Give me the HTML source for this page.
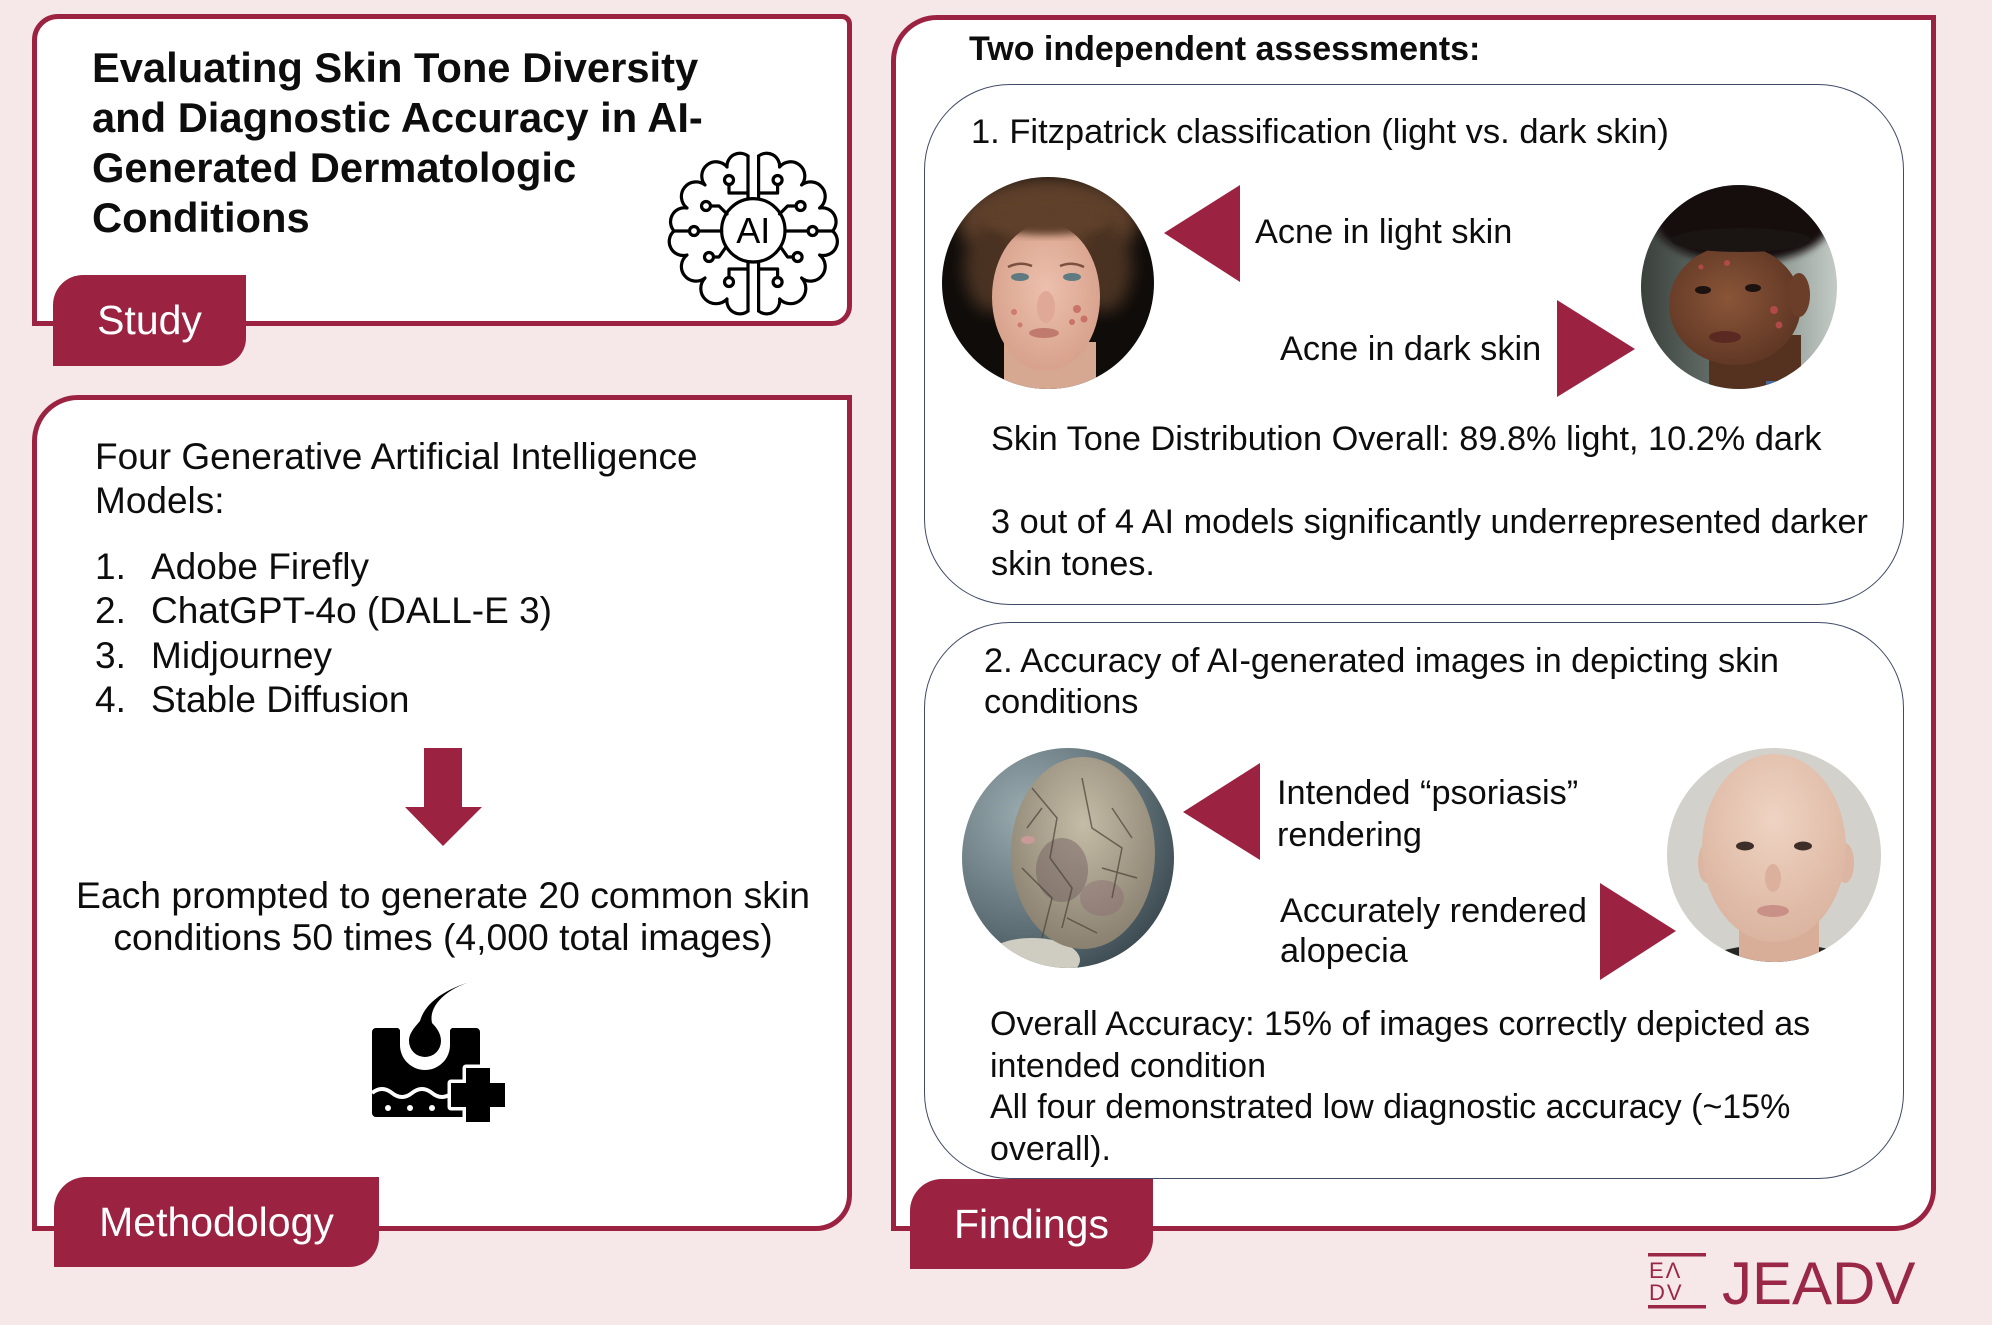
<!DOCTYPE html>
<html><head><meta charset="utf-8">
<style>
html,body{margin:0;padding:0;}
body{width:1992px;height:1325px;position:relative;overflow:hidden;background:#f6e7e9;font-family:"Liberation Sans",Arial,sans-serif;color:#0d0d0d;}
.panel{position:absolute;box-sizing:border-box;border:5px solid #9b2341;background:#fff;}
.tab{position:absolute;background:#9b2341;color:#fff;font-size:41px;display:flex;align-items:center;justify-content:center;}
.t{position:absolute;white-space:nowrap;}
.inner{position:absolute;box-sizing:border-box;border:1.4px solid #3f4a66;border-radius:86px;background:#fff;}
svg{position:absolute;left:0;top:0;}
</style></head><body>

<div class="panel" style="left:32px;top:14px;width:820px;height:312px;border-radius:26px 10px 20px 0;"></div>
<div class="panel" style="left:32px;top:395px;width:820px;height:836px;border-radius:46px 0 36px 0;"></div>
<div class="panel" style="left:891px;top:15px;width:1045px;height:1216px;border-radius:46px 0 42px 0;"></div>

<div class="inner" style="left:924px;top:84px;width:980px;height:521px;"></div>
<div class="inner" style="left:924px;top:622px;width:980px;height:557px;"></div>

<svg width="1992" height="1325" viewBox="0 0 1992 1325">
<defs>
<clipPath id="c1"><circle cx="1048" cy="283" r="106"/></clipPath>
<clipPath id="c2"><ellipse cx="1739" cy="287" rx="98" ry="102"/></clipPath>
<clipPath id="c3"><ellipse cx="1068" cy="858" rx="106" ry="110"/></clipPath>
<clipPath id="c4"><circle cx="1774" cy="855" r="107"/></clipPath>
<filter id="b4" x="-20%" y="-20%" width="140%" height="140%"><feGaussianBlur stdDeviation="4"/></filter>
<filter id="b8" x="-30%" y="-30%" width="160%" height="160%"><feGaussianBlur stdDeviation="8"/></filter>
<linearGradient id="g2bg" x1="0" y1="0" x2="1" y2="0"><stop offset="0" stop-color="#3a403c"/><stop offset="0.6" stop-color="#7d8a84"/><stop offset="1" stop-color="#c4cbc6"/></linearGradient>
<radialGradient id="g3bg" cx="0.3" cy="0.3" r="0.9"><stop offset="0" stop-color="#9aabb0"/><stop offset="0.6" stop-color="#5c6e74"/><stop offset="1" stop-color="#2f3c42"/></radialGradient>
<radialGradient id="g3f" cx="0.5" cy="0.35" r="0.7"><stop offset="0" stop-color="#c4bca6"/><stop offset="1" stop-color="#857c6c"/></radialGradient>
<radialGradient id="g4f" cx="0.5" cy="0.35" r="0.7"><stop offset="0" stop-color="#efd3c2"/><stop offset="1" stop-color="#d9b29d"/></radialGradient>
<radialGradient id="g1f" cx="0.5" cy="0.45" r="0.65"><stop offset="0" stop-color="#ecc0ad"/><stop offset="1" stop-color="#d49c86"/></radialGradient>
<radialGradient id="g2f" cx="0.45" cy="0.45" r="0.65"><stop offset="0" stop-color="#8a5538"/><stop offset="1" stop-color="#5a3322"/></radialGradient>
</defs>

<!-- Photo 1: light skin acne -->
<g clip-path="url(#c1)"><g transform="translate(942,177)">
<rect x="0" y="0" width="212" height="212" fill="#0f0c0a"/>
<g filter="url(#b8)">
<ellipse cx="106" cy="45" rx="90" ry="45" fill="#5e412b"/>
<ellipse cx="50" cy="90" rx="28" ry="45" fill="#4a3221"/>
<ellipse cx="162" cy="90" rx="28" ry="45" fill="#4a3221"/>
</g>
<rect x="62" y="165" width="92" height="60" fill="#d6a891"/>
<ellipse cx="104" cy="120" rx="54" ry="74" fill="url(#g1f)"/>
<ellipse cx="104" cy="44" rx="62" ry="14" fill="#5e412b" filter="url(#b4)"/>
<ellipse cx="78" cy="100" rx="9" ry="4" fill="#5f7a80"/>
<ellipse cx="130" cy="100" rx="9" ry="4" fill="#5f7a80"/>
<path d="M66 90 Q78 84 90 89 M118 89 Q130 84 142 90" stroke="#7a5040" stroke-width="2.5" fill="none"/>
<ellipse cx="104" cy="130" rx="9" ry="16" fill="#e0a896"/>
<ellipse cx="102" cy="156" rx="15" ry="5" fill="#c07a6e"/>
<circle cx="135" cy="132" r="4" fill="#c05a52" opacity="0.7"/>
<circle cx="142" cy="142" r="3.5" fill="#c05a52" opacity="0.7"/>
<circle cx="130" cy="145" r="3" fill="#c05a52" opacity="0.7"/>
<circle cx="72" cy="135" r="3" fill="#c05a52" opacity="0.6"/>
<circle cx="78" cy="148" r="2.5" fill="#c05a52" opacity="0.6"/>
</g></g>

<!-- Photo 2: dark skin acne -->
<g clip-path="url(#c2)"><g transform="translate(1641,185)">
<rect x="0" y="0" width="196" height="204" fill="url(#g2bg)"/>
<ellipse cx="102" cy="36" rx="88" ry="42" fill="#16110f" filter="url(#b4)"/>
<rect x="68" y="150" width="92" height="60" fill="#55311f"/>
<ellipse cx="94" cy="120" rx="66" ry="60" fill="url(#g2f)"/>
<ellipse cx="158" cy="110" rx="11" ry="22" fill="#6a3e28"/>
<ellipse cx="100" cy="55" rx="70" ry="12" fill="#1a1412"/>
<ellipse cx="62" cy="105" rx="8" ry="4" fill="#1c1210"/>
<ellipse cx="112" cy="103" rx="8" ry="4" fill="#1c1210"/>
<ellipse cx="84" cy="152" rx="16" ry="6" fill="#5a2a22"/>
<circle cx="133" cy="125" r="4" fill="#b04a48"/>
<circle cx="138" cy="140" r="3.5" fill="#b04a48"/>
<circle cx="86" cy="78" r="3" fill="#b04a48"/>
<circle cx="60" cy="82" r="2.5" fill="#b04a48"/>
<rect x="125" y="196" width="60" height="12" fill="#4a6a9a"/>
</g></g>

<!-- Photo 3: psoriasis -->
<g clip-path="url(#c3)"><g transform="translate(962,748)">
<rect x="0" y="0" width="212" height="220" fill="url(#g3bg)"/>
<ellipse cx="70" cy="212" rx="48" ry="22" fill="#cfcdc2"/>
<ellipse cx="121" cy="105" rx="72" ry="96" fill="url(#g3f)"/>
<ellipse cx="100" cy="122" rx="26" ry="32" fill="#6e5c5e" opacity="0.45"/>
<ellipse cx="140" cy="150" rx="22" ry="18" fill="#8a6a70" opacity="0.4"/>
<ellipse cx="66" cy="92" rx="7" ry="4" fill="#c99a98"/>
<path d="M70 40 L95 70 L88 110 L110 140 L100 180 M120 30 L130 80 L160 100 L150 150 M60 120 L90 150 L80 190 M150 60 L170 90 M80 60 L65 80 M140 120 L175 130 M105 170 L135 185" stroke="#4a4036" stroke-width="1.5" fill="none" opacity="0.7"/>
</g></g>

<!-- Photo 4: alopecia -->
<g clip-path="url(#c4)"><g transform="translate(1667,748)">
<rect x="0" y="0" width="214" height="216" fill="#d2d1cb"/>
<ellipse cx="112" cy="226" rx="90" ry="30" fill="#262626"/>
<rect x="72" y="160" width="80" height="60" fill="#d8ae99"/>
<ellipse cx="40" cy="115" rx="9" ry="20" fill="#dcb6a2"/>
<ellipse cx="178" cy="115" rx="9" ry="20" fill="#dcb6a2"/>
<ellipse cx="107" cy="100" rx="72" ry="94" fill="url(#g4f)"/>
<ellipse cx="78" cy="98" rx="9" ry="4.5" fill="#3e2e2a"/>
<ellipse cx="136" cy="98" rx="9" ry="4.5" fill="#3e2e2a"/>
<ellipse cx="106" cy="130" rx="8" ry="14" fill="#dbb19d"/>
<ellipse cx="106" cy="163" rx="16" ry="6" fill="#c99088"/>
</g></g>

<!-- triangles -->
<g fill="#9b2341">
<polygon points="1164,233 1240,185 1240,282"/>
<polygon points="1557,300 1557,397 1635,349"/>
<polygon points="1183,812 1260,763 1260,860"/>
<polygon points="1600,883 1600,980 1676,931"/>
<!-- down arrow -->
<polygon points="424,748 462,748 462,807 482,807 443,846 405,807 424,807"/>
</g>

<!-- brain AI icon -->
<g transform="translate(669,151)" fill="none" stroke="#000" stroke-width="3.2" stroke-linecap="round" stroke-linejoin="round">
<path d="M79,5 A13,13 0 0 0 58,16 A14,14 0 0 0 36,34 A14,14 0 0 0 18,57 A14,14 0 0 0 5,80 A14,14 0 0 0 18,104 A14,14 0 0 0 36,127 A14,14 0 0 0 58,148 A13,13 0 0 0 79,160"/>
<path d="M79,5 L79,48 M79,111 L79,160"/>
<circle cx="60" cy="29" r="4.5"/>
<path d="M60,33.5 L60,42 L79,42"/>
<circle cx="37" cy="55" r="4.5"/>
<path d="M41.5,55 L50,55 L58,63"/>
<circle cx="25" cy="80" r="4.5"/>
<path d="M5,80 L20.5,80 M29.5,80 L52.6,80"/>
<circle cx="40" cy="106" r="4.5"/>
<path d="M44.5,106 L50,106 L57,96"/>
<circle cx="60" cy="131" r="4.5"/>
<path d="M60,126.5 L60,118 L79,118"/>
<g transform="translate(168.6,0) scale(-1,1)">
<path d="M79,5 A13,13 0 0 0 58,16 A14,14 0 0 0 36,34 A14,14 0 0 0 18,57 A14,14 0 0 0 5,80 A14,14 0 0 0 18,104 A14,14 0 0 0 36,127 A14,14 0 0 0 58,148 A13,13 0 0 0 79,160"/>
<path d="M79,5 L79,48 M79,111 L79,160"/>
<circle cx="60" cy="29" r="4.5"/>
<path d="M60,33.5 L60,42 L79,42"/>
<circle cx="37" cy="55" r="4.5"/>
<path d="M41.5,55 L50,55 L58,63"/>
<circle cx="25" cy="80" r="4.5"/>
<path d="M5,80 L20.5,80 M29.5,80 L52.6,80"/>
<circle cx="40" cy="106" r="4.5"/>
<path d="M44.5,106 L50,106 L57,96"/>
<circle cx="60" cy="131" r="4.5"/>
<path d="M60,126.5 L60,118 L79,118"/>
</g>
<circle cx="84.3" cy="79.3" r="31.7"/>
<text x="84.3" y="92" text-anchor="middle" font-family="Liberation Sans, Arial, sans-serif" font-size="36" fill="#000" stroke="none">AI</text>
</g>

<!-- skin icon -->
<g transform="translate(360,975)">
<path d="M16,53 L38,53 L40,55 L40,70 A25,25 0 0 0 90,70 L90,55 L92,53 L116,53 A4,4 0 0 1 120,57 L120,138 A4,4 0 0 1 116,142 L16,142 A4,4 0 0 1 12,138 L12,57 A4,4 0 0 1 16,53 Z" fill="#000"/>
<path d="M49,66 A16,16 0 0 0 81,66 C81,58 76,52 72,48 C68,30 88,12 117,5 C90,12 66,25 60,46 C55,52 49,58 49,66 Z" fill="#000"/>
<path d="M12,118 Q22,110 32,118 T52,118 T72,118 T92,118" stroke="#fff" stroke-width="4" fill="none"/>
<circle cx="28" cy="133" r="3" fill="#fff"/>
<circle cx="50" cy="133" r="3" fill="#fff"/>
<circle cx="72" cy="133" r="3" fill="#fff"/>
<path d="M106,93 L130,93 L130,108 L145,108 L145,132 L130,132 L130,147 L106,147 L106,132 L91,132 L91,108 L106,108 Z" fill="#000" stroke="#fff" stroke-width="7" stroke-linejoin="round" paint-order="stroke"/>
<path d="M106,93 L130,93 L130,108 L145,108 L145,132 L130,132 L130,147 L106,147 L106,132 L91,132 L91,108 L106,108 Z" fill="#000"/>
</g>

<!-- logo mark -->
<g fill="#9b2747">
<rect x="1648" y="1253" width="58" height="3.5"/>
<rect x="1648" y="1305" width="58" height="3.5"/>
<text x="1649" y="1278" font-family="Liberation Sans, Arial, sans-serif" font-size="22" letter-spacing="2">EΛ</text>
<text x="1649" y="1300" font-family="Liberation Sans, Arial, sans-serif" font-size="22" letter-spacing="2">DV</text>
</g>
</svg>

<div class="tab" style="left:53px;top:275px;width:193px;height:91px;border-radius:30px 0 28px 0;">Study</div>
<div class="tab" style="left:54px;top:1177px;width:325px;height:90px;border-radius:32px 0 30px 0;">Methodology</div>
<div class="tab" style="left:910px;top:1179px;width:243px;height:90px;border-radius:32px 0 30px 0;">Findings</div>

<div class="t" style="left:92px;top:43px;font-size:41.7px;line-height:50px;font-weight:bold;">Evaluating Skin Tone Diversity<br>and Diagnostic Accuracy in AI-<br>Generated Dermatologic<br>Conditions</div>

<div class="t" style="left:95px;top:435px;font-size:37px;line-height:44px;">Four Generative Artificial Intelligence<br>Models:</div>
<div class="t" style="left:95px;top:545px;font-size:37px;line-height:44.3px;">1.<br>2.<br>3.<br>4.</div>
<div class="t" style="left:151px;top:545px;font-size:37px;line-height:44.3px;">Adobe Firefly<br>ChatGPT-4o (DALL-E 3)<br>Midjourney<br>Stable Diffusion</div>
<div class="t" style="left:32px;width:822px;top:874px;font-size:37.3px;line-height:42px;text-align:center;">Each prompted to generate 20 common skin<br>conditions 50 times (4,000 total images)</div>

<div class="t" style="left:969px;top:29px;font-size:34px;line-height:41px;font-weight:bold;">Two independent assessments:</div>
<div class="t" style="left:971px;top:111px;font-size:34.5px;line-height:42px;">1. Fitzpatrick classification (light vs. dark skin)</div>
<div class="t" style="left:1255px;top:211px;font-size:34.3px;line-height:42px;">Acne in light skin</div>
<div class="t" style="left:1280px;top:328px;font-size:34.3px;line-height:42px;">Acne in dark skin</div>
<div class="t" style="left:991px;top:418px;font-size:34.3px;line-height:42px;">Skin Tone Distribution Overall: 89.8% light, 10.2% dark</div>
<div class="t" style="left:991px;top:501px;font-size:34.3px;line-height:42px;">3 out of 4 AI models significantly underrepresented darker<br>skin tones.</div>
<div class="t" style="left:984px;top:641px;font-size:34.3px;line-height:41px;">2. Accuracy of AI-generated images in depicting skin<br>conditions</div>
<div class="t" style="left:1277px;top:772px;font-size:34.3px;line-height:42px;">Intended “psoriasis”<br>rendering</div>
<div class="t" style="left:1280px;top:891px;font-size:34.3px;line-height:40px;">Accurately rendered<br>alopecia</div>
<div class="t" style="left:990px;top:1004px;font-size:34px;line-height:41.7px;">Overall Accuracy: 15% of images correctly depicted as<br>intended condition<br>All four demonstrated low diagnostic accuracy (~15%<br>overall).</div>

<div class="t" style="left:1722px;top:1254px;font-size:60px;line-height:60px;color:#9b2747;">JEADV</div>

</body></html>
